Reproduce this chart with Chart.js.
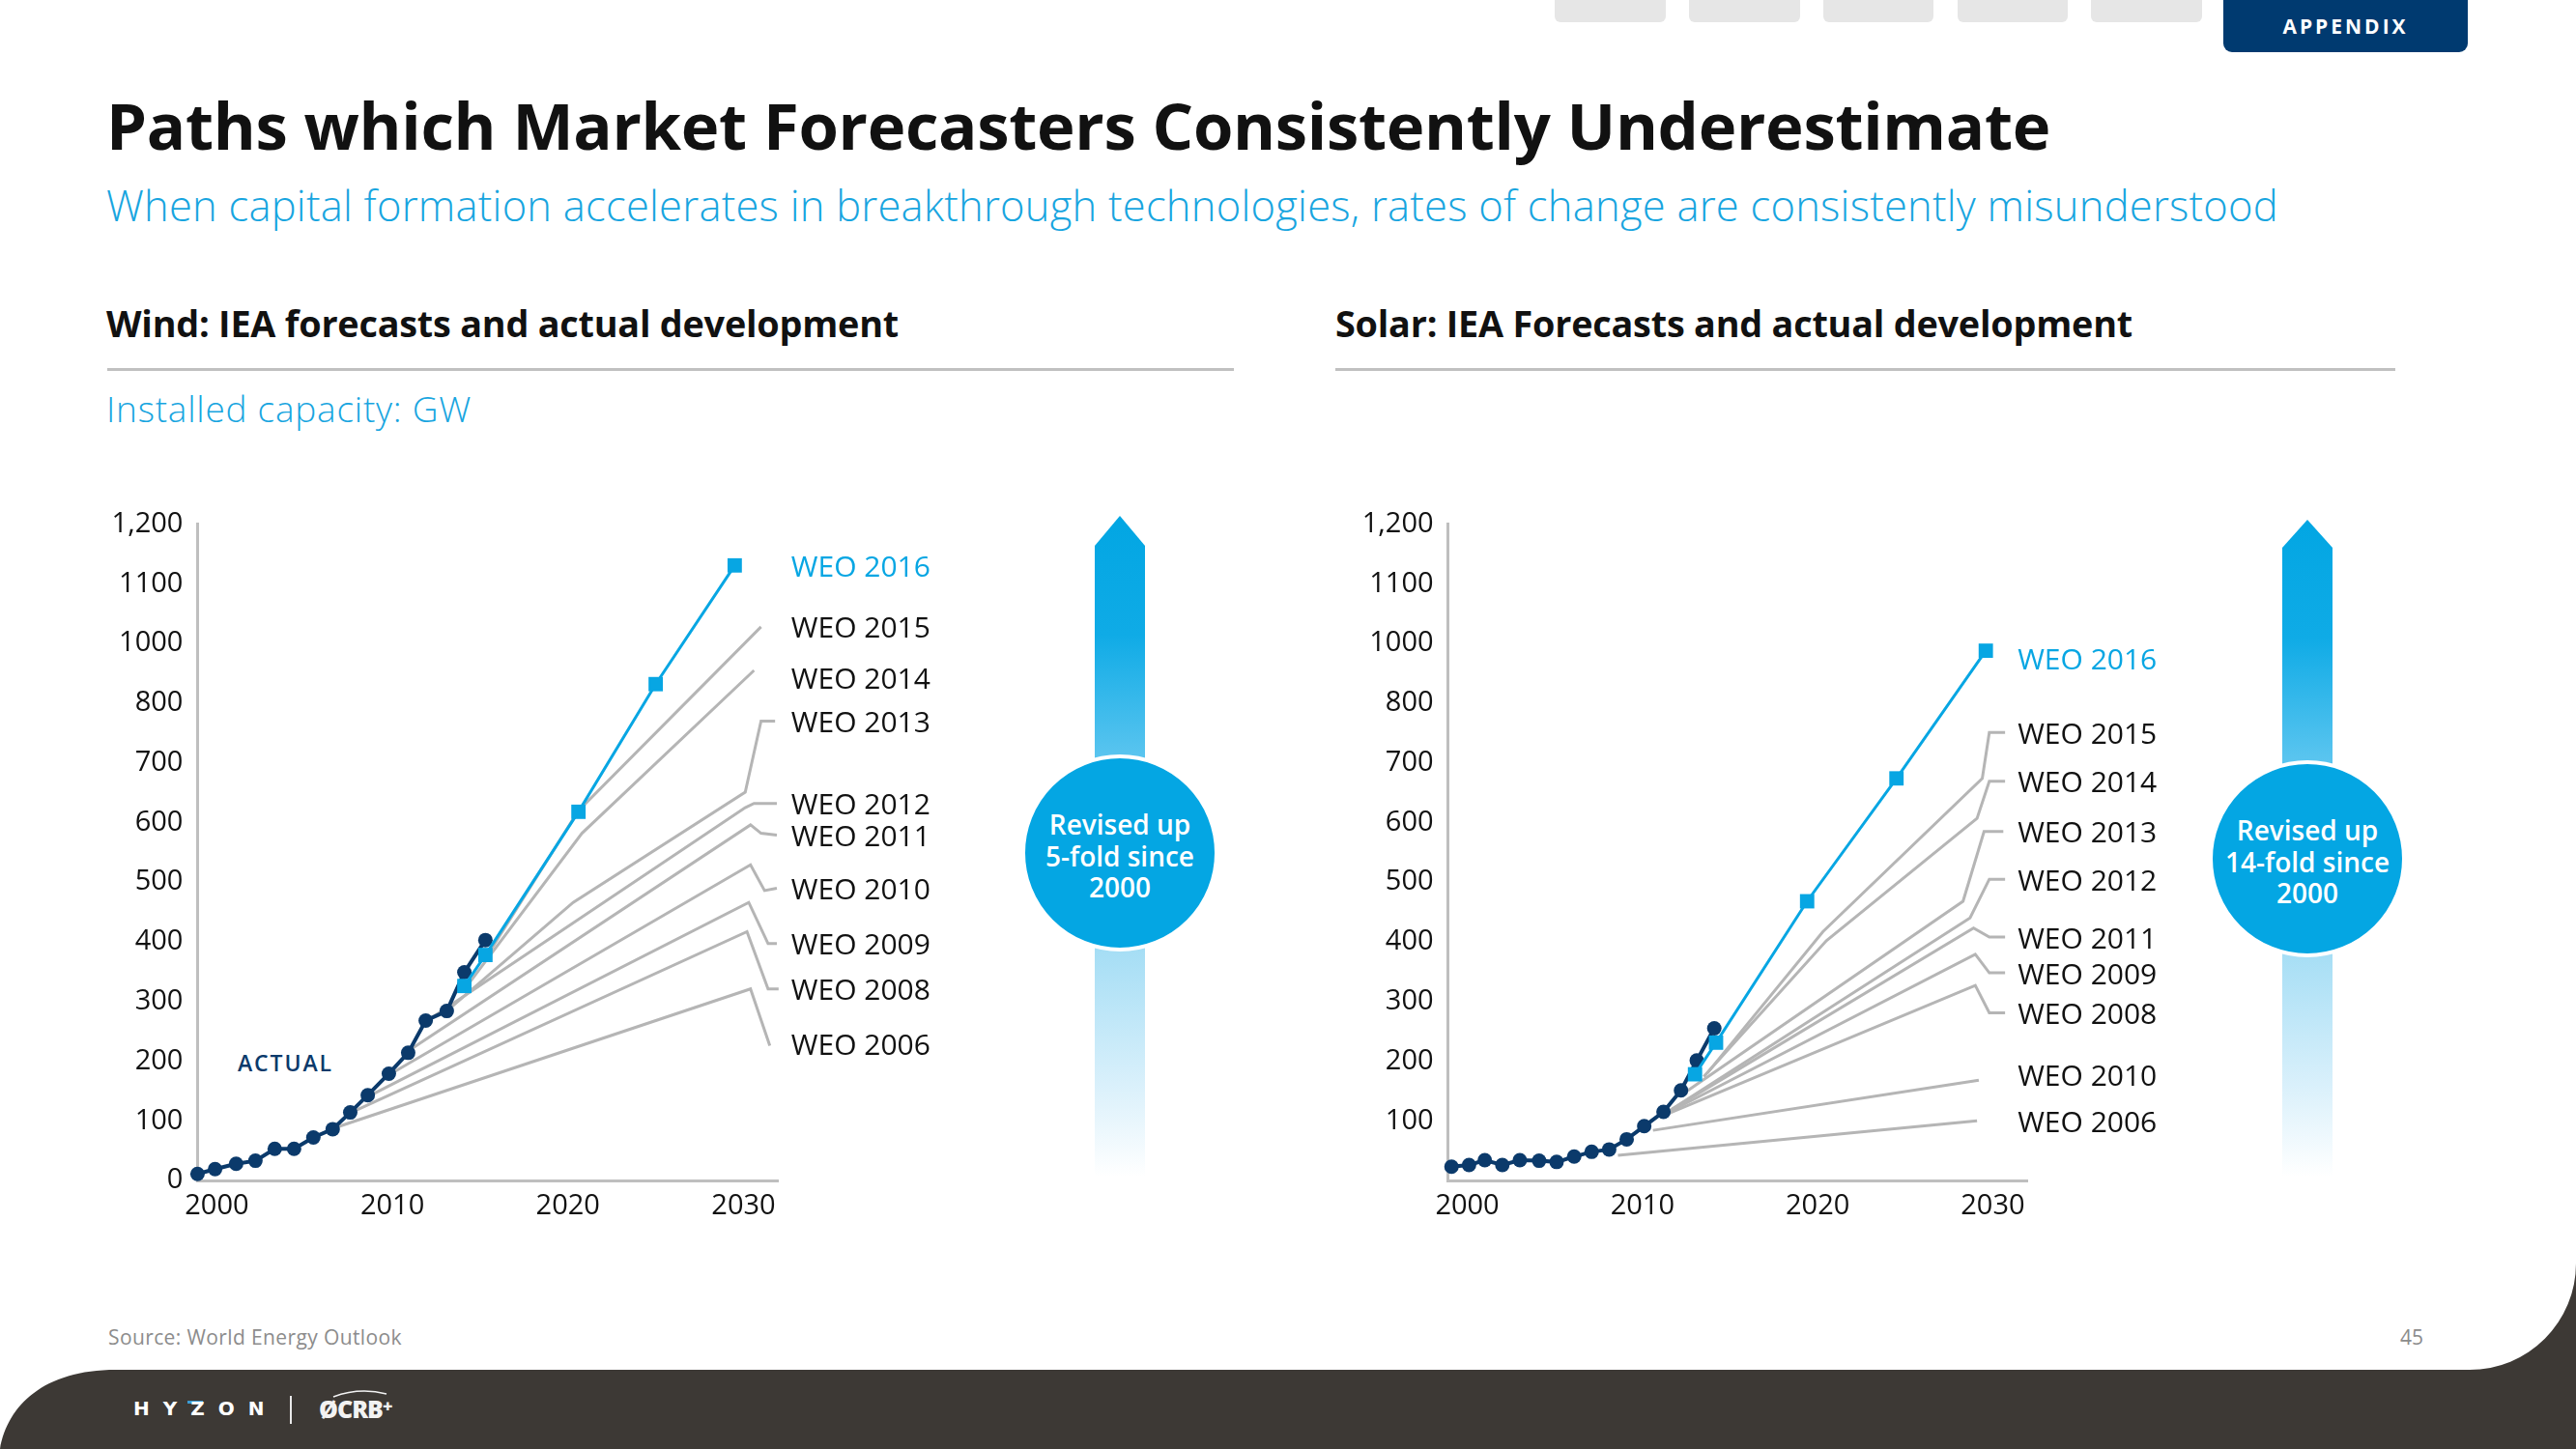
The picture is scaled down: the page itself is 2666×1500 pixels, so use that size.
<!DOCTYPE html>
<html>
<head>
<meta charset="utf-8">
<script src="https://cdn.jsdelivr.net/npm/chart.js@4.4.1/dist/chart.umd.min.js"></script>
<style>
  html, body { margin: 0; padding: 0; background: #fff; }
  body { width: 2666px; height: 1500px; position: relative; overflow: hidden; font-family: 'Open Sans', 'Noto Sans', sans-serif; color: #111; }
  .t { position: absolute; white-space: nowrap; line-height: 1; }
  #bg { position: absolute; left: 0; top: 0; }
  canvas { position: absolute; }
  .bubble { position: absolute; width: 200px; height: 200px; display: flex; align-items: center; justify-content: center;
            text-align: center; color: #fff; font-weight: 600; font-size: 28px; line-height: 32.5px; padding-top: 6px; box-sizing: border-box; }
</style>
</head>
<body>

<svg id="bg" width="2666" height="1500" viewBox="0 0 2666 1500">
  <defs>
    <linearGradient id="arrowGradW" gradientUnits="userSpaceOnUse" x1="0" y1="534" x2="0" y2="1218">
      <stop offset="0" stop-color="#02a6e3"/>
      <stop offset="0.18" stop-color="#0fabe6"/>
      <stop offset="0.36" stop-color="#58c4ef"/>
      <stop offset="0.66" stop-color="#a6def5"/>
      <stop offset="0.86" stop-color="#d9f0fb"/>
      <stop offset="1" stop-color="#ffffff"/>
    </linearGradient>
    <linearGradient id="arrowGradS" gradientUnits="userSpaceOnUse" x1="0" y1="538" x2="0" y2="1218">
      <stop offset="0" stop-color="#02a6e3"/>
      <stop offset="0.18" stop-color="#0fabe6"/>
      <stop offset="0.36" stop-color="#58c4ef"/>
      <stop offset="0.66" stop-color="#a6def5"/>
      <stop offset="0.86" stop-color="#d9f0fb"/>
      <stop offset="1" stop-color="#ffffff"/>
    </linearGradient>
  </defs>

  <!-- nav tabs -->
  <rect x="1609" y="-10" width="115" height="33" rx="6" fill="#e6e6e6"/>
  <rect x="1748" y="-10" width="115" height="33" rx="6" fill="#e6e6e6"/>
  <rect x="1887" y="-10" width="114" height="33" rx="6" fill="#e6e6e6"/>
  <rect x="2026" y="-10" width="114" height="33" rx="6" fill="#e6e6e6"/>
  <rect x="2164" y="-10" width="115" height="33" rx="6" fill="#e6e6e6"/>
  <rect x="2301" y="-12" width="253" height="66" rx="9" fill="#003a70"/>

  <!-- section rules -->
  <rect x="111" y="381" width="1166" height="3" fill="#c0c0c0"/>
  <rect x="1382" y="381" width="1097" height="3" fill="#c0c0c0"/>

  <!-- revised-up arrows -->
  <polygon points="1133,565 1159,534 1185,565 1185,1218 1133,1218" fill="url(#arrowGradW)"/>
  <circle cx="1159" cy="883" r="100" fill="#04a6e3" stroke="#fff" stroke-width="4"/>
  <polygon points="2362,567 2388,538 2414,567 2414,1218 2362,1218" fill="url(#arrowGradS)"/>
  <circle cx="2388" cy="889" r="100" fill="#04a6e3" stroke="#fff" stroke-width="4"/>

  <!-- footer band -->
  <path d="M0,1500 C8,1455 45,1418 120,1418 L2556,1418 A110,110 0 0 0 2666,1308 L2666,1500 Z" fill="#3d3935"/>
  <rect x="300" y="1445" width="2" height="29" fill="#e8e8e8"/>
  <rect x="194" y="1450" width="16" height="3" fill="#3a9bd5"/>
  <path d="M345,1446 Q372,1436 400,1443" stroke="#f2f2f2" stroke-width="1.5" fill="none"/>
</svg>

<div class="t" id="appendix" style="left:2301px; top:17px; width:253px; text-align:center; color:#fff; font-weight:700; font-size:21px; letter-spacing:3px;">APPENDIX</div>

<div class="t fit" data-w="2012" style="left:110px; top:95.5px; font-size:67px; font-weight:700;">Paths which Market Forecasters Consistently Underestimate</div>
<div class="t fit" data-w="2248" style="left:110px; top:191.4px; font-size:43.5px; font-weight:300; color:#18a5df;">When capital formation accelerates in breakthrough technologies, rates of change are consistently misunderstood</div>

<div class="t fit" data-w="820" style="left:110px; top:316.4px; font-size:37.8px; font-weight:700;">Wind: IEA forecasts and actual development</div>
<div class="t fit" data-w="825" style="left:1382px; top:316.4px; font-size:37.8px; font-weight:700;">Solar: IEA Forecasts and actual development</div>
<div class="t fit" data-w="378" style="left:110px; top:403.8px; font-size:37px; font-weight:300; color:#18a5df;">Installed capacity: GW</div>

<div class="t fit" data-w="99" style="left:246px; top:1089.3px; font-size:23px; font-weight:600; color:#0b3a6b;">ACTUAL</div>

<div class="bubble" style="left:1059px; top:783px;">Revised up<br>5-fold since<br>2000</div>
<div class="bubble" style="left:2288px; top:789px;">Revised up<br>14-fold since<br>2000</div>

<div class="t fit" data-w="304" style="left:112px; top:1374.4px; font-size:21px; color:#8c8c8c;">Source: World Energy Outlook</div>
<div class="t" style="left:2484px; top:1374.4px; font-size:21px; color:#8c8c8c;">45</div>

<div class="t" style="left:138px; top:1448px; font-size:20px; font-weight:700; color:#fff; letter-spacing:14px; font-family:'DejaVu Sans', sans-serif;">HYZON</div>
<div class="t" style="left:330px; top:1446px; font-size:25px; font-weight:800; color:#f2f2f2; letter-spacing:-1px;">ØCRB<span style="font-size:18px; vertical-align:top;">+</span></div>

<canvas id="windChart" width="900" height="780" style="left:100px; top:500px; width:900px; height:780px;"></canvas>
<canvas id="solarChart" width="900" height="780" style="left:1400px; top:500px; width:900px; height:780px;"></canvas>

<script>
// ---- data (y in plotted units, 100 per gridline step) ----
const xTickYears = [2000, 2010, 2020, 2030];
const windYTickLabels = ['0', '100', '200', '300', '400', '500', '600', '700', '800', '1000', '1100', '1,200'];
const solarYTickLabels = ['', '100', '200', '300', '400', '500', '600', '700', '800', '1000', '1100', '1,200'];

const windActualYears = [1998.9, 1999.9, 2001.1, 2002.2, 2003.3, 2004.4, 2005.5, 2006.6, 2007.6, 2008.6, 2009.8, 2010.9, 2011.9, 2013.1, 2014.1, 2015.3];
const windActualGW    = [11, 19, 28, 33, 53, 53, 72, 86, 114, 143, 179, 214, 268, 284, 349, 403];

const wind2016 = [[2014.1, 326], [2015.3, 378], [2020.6, 618], [2025.0, 832], [2029.5, 1031]];
const wind2015 = [[2015.4, 377], [2020.6, 620], [2031.0, 928]];
const wind2014 = [[2014.2, 324], [2020.8, 582], [2030.6, 855]];
const wind2013 = [[2013.1, 284], [2020.3, 466], [2030.1, 651], [2031.0, 770], [2031.8, 770]];
const wind2012 = [[2012.0, 268], [2030.1, 625], [2030.6, 632], [2031.9, 632]];
const wind2011 = [[2010.9, 217], [2030.4, 596], [2031.0, 582], [2031.9, 579]];
const wind2010 = [[2009.8, 177], [2030.4, 529], [2031.2, 486], [2031.9, 490]];
const wind2009 = [[2008.7, 142], [2030.3, 466], [2031.4, 397], [2031.9, 397]];
const wind2008 = [[2007.6, 113], [2030.2, 417], [2031.4, 321], [2032.0, 321]];
const wind2006 = [[2006.6, 87], [2030.4, 321], [2031.5, 226]];

const solarActualYears = [1999.1, 2000.1, 2001.0, 2002.0, 2003.0, 2004.1, 2005.1, 2006.1, 2007.1, 2008.1, 2009.1, 2010.1, 2011.2, 2012.2, 2013.1, 2014.1];
const solarActualGW    = [23, 26, 34, 26, 34, 33, 31, 40, 48, 52, 69, 91, 115, 151, 201, 255];

const solar2016 = [[2013.0, 178], [2014.2, 231], [2019.4, 468], [2024.5, 674], [2029.6, 888]];
const solar2015 = [[2013.7, 180], [2020.3, 417], [2029.4, 674], [2029.8, 751], [2030.7, 751]];
const solar2014 = [[2013.5, 174], [2020.5, 402], [2029.1, 607], [2029.8, 669], [2030.7, 669]];
const solar2013 = [[2012.3, 145], [2028.3, 468], [2029.5, 585], [2030.6, 585]];
const solar2012 = [[2011.7, 120], [2028.7, 440], [2029.8, 505], [2030.7, 505]];
const solar2011 = [[2011.5, 116], [2028.9, 423], [2029.8, 408], [2030.7, 408]];
const solar2009 = [[2011.4, 113], [2029.0, 379], [2029.8, 348], [2030.7, 348]];
const solar2008 = [[2011.3, 110], [2029.0, 327], [2029.8, 281], [2030.7, 281]];
const solar2010 = [[2010.6, 84], [2029.2, 168]];
const solar2006 = [[2008.6, 42], [2029.1, 100]];

// ---- styling ----
const BLUE = '#07a6e3';
const NAVY = '#0b3a6b';
const GRAY = '#b5b5b5';
const FONT = "'Open Sans', 'Noto Sans', sans-serif";

Chart.defaults.font.family = FONT;
Chart.defaults.color = '#111';

const pts = arr => arr.map(([x, y]) => ({ x, y }));

function grayLine(label, points, labelDy) {
  return {
    label, weoLabel: label, labelDy: labelDy || 0,
    data: pts(points), borderColor: GRAY, borderWidth: 3,
    pointRadius: 0, tension: 0, clip: false, order: 2
  };
}

function blueLine(label, points, labelDy) {
  return {
    label, weoLabel: label, labelColor: BLUE, labelDy: labelDy || 0,
    data: pts(points), borderColor: BLUE, borderWidth: 3,
    pointStyle: 'rect', pointRadius: 10.5, pointBackgroundColor: BLUE, pointBorderWidth: 0,
    tension: 0, clip: false, order: 0
  };
}

function actualLine(years, values) {
  return {
    label: 'Actual',
    data: years.map((x, i) => ({ x, y: values[i] })),
    borderColor: NAVY, borderWidth: 4,
    pointRadius: 7.5, pointBackgroundColor: NAVY, pointBorderWidth: 0,
    tension: 0, clip: false, order: 1
  };
}

// draws the "WEO xxxx" names next to the end of each forecast line
const weoLabels = {
  id: 'weoLabels',
  afterDatasetsDraw(chart) {
    const { ctx, scales: { x, y } } = chart;
    const sets = chart.data.datasets.filter(d => d.weoLabel);
    const labelX = Math.max(...sets.map(d => x.getPixelForValue(d.data[d.data.length - 1].x))) + 13;
    ctx.save();
    ctx.font = '30px ' + FONT;
    ctx.textBaseline = 'middle';
    ctx.textAlign = 'left';
    sets.forEach(d => {
      const last = d.data[d.data.length - 1];
      ctx.fillStyle = d.labelColor || '#111';
      ctx.fillText(d.weoLabel, labelX, y.getPixelForValue(last.y) + d.labelDy + 3);
    });
    ctx.restore();
  }
};

function makeChart(id, datasets, yLabels, yAxisWidth, padRight) {
  return new Chart(document.getElementById(id), {
    type: 'line',
    data: { datasets },
    options: {
      responsive: false,
      animation: false,
      layout: { padding: { top: 42.7, right: padRight, bottom: 0, left: 0 } },
      plugins: { legend: { display: false }, tooltip: { enabled: false } },
      scales: {
        x: {
          type: 'linear', min: 1998.9, max: 2032,
          afterBuildTicks: s => { s.ticks = xTickYears.map(v => ({ value: v })); },
          afterFit: s => { s.height = 58; },
          grid: { display: false, drawTicks: false },
          border: { display: true, color: '#bfbfbf', width: 3 },
          ticks: { padding: 9, color: '#111', font: { size: 29 }, maxRotation: 0, callback: v => String(v) }
        },
        y: {
          type: 'linear', min: 0, max: 1100,
          afterBuildTicks: s => { s.ticks = yLabels.map((_, i) => ({ value: i * 100 })); },
          afterFit: s => { s.width = yAxisWidth; },
          grid: { display: false, drawTicks: false },
          border: { display: true, color: '#bfbfbf', width: 3 },
          ticks: { padding: 15, color: '#111', font: { size: 29 }, callback: (v, i) => yLabels[i] }
        }
      }
    },
    plugins: [weoLabels]
  });
}

makeChart('windChart', [
  blueLine('WEO 2016', wind2016),
  actualLine(windActualYears, windActualGW),
  grayLine('WEO 2015', wind2015),
  grayLine('WEO 2014', wind2014, 7),
  grayLine('WEO 2013', wind2013),
  grayLine('WEO 2012', wind2012),
  grayLine('WEO 2011', wind2011),
  grayLine('WEO 2010', wind2010),
  grayLine('WEO 2009', wind2009),
  grayLine('WEO 2008', wind2008),
  grayLine('WEO 2006', wind2006, -2)
], windYTickLabels, 104.4, 194.2);

makeChart('solarChart', [
  blueLine('WEO 2016', solar2016, 8),
  actualLine(solarActualYears, solarActualGW),
  grayLine('WEO 2015', solar2015),
  grayLine('WEO 2014', solar2014),
  grayLine('WEO 2013', solar2013),
  grayLine('WEO 2012', solar2012),
  grayLine('WEO 2011', solar2011),
  grayLine('WEO 2009', solar2009),
  grayLine('WEO 2008', solar2008),
  grayLine('WEO 2010', solar2010, -6),
  grayLine('WEO 2006', solar2006)
], solarYTickLabels, 98.6, 201.3);

// stretch/squeeze header texts to the widths they have on the slide
document.querySelectorAll('.fit').forEach(el => {
  const w = el.getBoundingClientRect().width;
  const n = el.textContent.length;
  el.style.letterSpacing = ((+el.dataset.w - w) / n) + 'px';
});
</script>
</body>
</html>
